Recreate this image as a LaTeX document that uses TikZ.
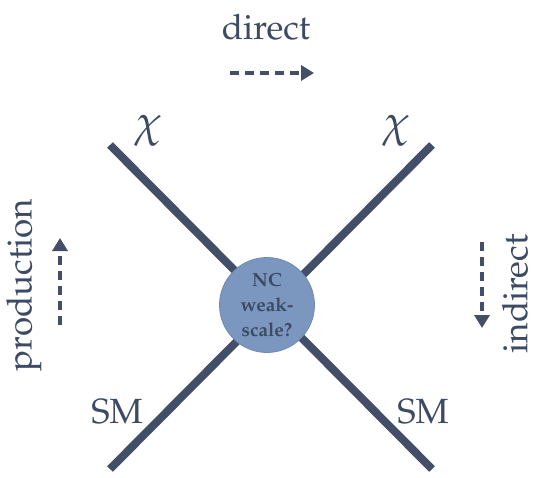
\RequirePackage{fix-cm}
\documentclass[tikz,border=0pt]{standalone}
\usepackage[T1]{fontenc}
\usepackage{mathpazo}
\usetikzlibrary{arrows.meta}
\definecolor{lineC}{HTML}{434F68}
\definecolor{textC}{HTML}{3D4A63}
\definecolor{blobC}{HTML}{7B97BF}
\definecolor{blobE}{HTML}{6E8AB2}
\begin{document}
\begin{tikzpicture}[x=1pt,y=-1pt,
  leg/.style={line width=8pt,draw=lineC},
  lab/.style={text=textC,font=\fontsize{35}{40}\selectfont,inner sep=0pt},
  greek/.style={text=textC,font=\fontsize{44}{48}\selectfont,inner sep=0pt},
  flow/.style={line width=4pt,draw=lineC,dash pattern=on 9pt off 6pt,-{Triangle[length=13pt,width=15pt]}},
  blob/.style={circle,fill=blobC,draw=blobE,line width=0.8pt,minimum size=95pt,inner sep=0pt,
    text=textC,align=center,font=\fontsize{19}{25}\selectfont\bfseries}]
\useasboundingbox (0,0) rectangle (537,478);
\coordinate (tl) at (110,145);
\coordinate (tr) at (432,145);
\coordinate (bl) at (110,469);
\coordinate (br) at (432,469);
\draw[leg] (tl) -- (br);
\draw[leg] (tr) -- (bl);
\node[blob] (c) at (267,305) {NC\\weak-\\scale?};
\node[lab] (dir) at (266,27) {direct};
\coordinate (d1) at (230,73);
\coordinate (d2) at (314,73);
\draw[flow] (d1) -- (d2);
\node[greek] (chil) at (148,131) {$\chi$};
\node[greek] (chir) at (396,131) {$\chi$};
\node[lab,rotate=90] (prod) at (24,285) {production};
\coordinate (p1) at (60,325);
\coordinate (p2) at (60,238);
\draw[flow] (p1) -- (p2);
\node[lab,rotate=90] (ind) at (515,294) {indirect};
\coordinate (i1) at (482,242);
\coordinate (i2) at (482,328);
\draw[flow] (i1) -- (i2);
\node[lab] (sml) at (117,412) {SM};
\node[lab] (smr) at (423,412) {SM};
\end{tikzpicture}
\end{document}
